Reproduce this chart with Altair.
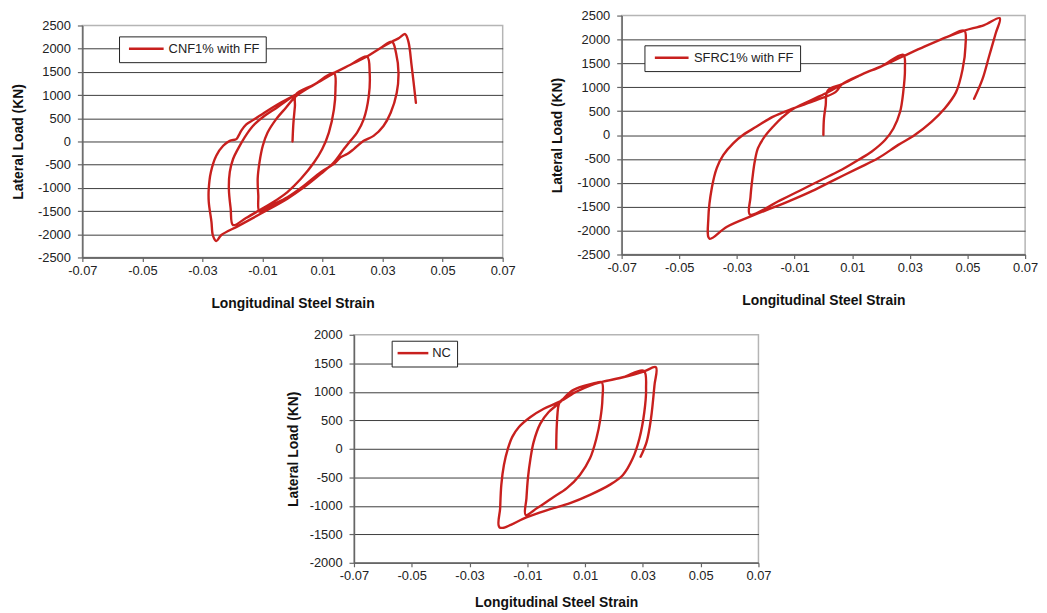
import altair as alt
import pandas as pd

RED = "#c8201e"
FONT = "Liberation Sans"

x_ticks = [-0.07, -0.05, -0.03, -0.01, 0.01, 0.03, 0.05, 0.07]

# ---- CNF1% with FF (top-left) ----
cnf_strain = [0.0, 0.0003, 0.0008, 0.0011, 0.0072, 0.0138,
              0.0143, 0.0138, 0.0121, 0.0099, 0.0072, 0.0028, -0.0017, -0.0072, -0.011, -0.0155, -0.0198,
              -0.0206, -0.0212, -0.0209, -0.0198, -0.0182, -0.016, -0.0132, -0.0094, -0.005, 0.0011, 0.0072, 0.0138, 0.0193, 0.0248,
              0.0257, 0.0254, 0.0237, 0.0215, 0.0193, 0.0171, 0.0138, 0.0094, 0.0039, -0.0017, -0.0105, -0.018, -0.0237, -0.0254,
              -0.0265, -0.027, -0.0279, -0.0279, -0.0272, -0.0254, -0.0231, -0.0209, -0.0187, -0.018, -0.0171, -0.0154, -0.0127, -0.0094, -0.005, 0.0011, 0.0072, 0.0138, 0.0193, 0.0248, 0.0292, 0.0331,
              0.0345, 0.0353, 0.0347, 0.0327, 0.0303, 0.027, 0.0237, 0.0204, 0.0182, 0.016, 0.0138, 0.0094, 0.0039, -0.0017, -0.0072, -0.011,
              -0.0114, -0.0116, -0.011, -0.0099, -0.0083, -0.0055, -0.0022, 0.0011, 0.0072, 0.0138, 0.0193, 0.0248, 0.0292, 0.0331, 0.0353, 0.0375,
              0.0386, 0.0397, 0.0411]
cnf_load = [0, 400, 760, 1010, 1225, 1474,
            1118, 691, 192, -164, -449, -805, -1090, -1339, -1482, -1650, -1802,
            -1446, -1019, -662, -378, -164, 85, 335, 548, 740, 1011, 1225, 1474, 1653, 1831,
            1474, 976, 477, 192, 14, -164, -449, -698, -983, -1232, -1553, -1820, -2016, -2144,
            -2030, -1731, -1300, -1019, -662, -306, -93, 14, 50, 121, 228, 370, 477, 620, 798, 1011, 1225, 1474, 1653, 1831, 2009, 2151,
            1902, 1474, 1047, 620, 335, 121, 14, -164, -271, -342, -484, -662, -947, -1200, -1380, -1510,
            -1161, -805, -449, -93, 192, 477, 727, 970, 1225, 1474, 1653, 1831, 2009, 2151, 2222, 2315,
            2151, 1617, 833]

# ---- SFRC1% with FF (top-right) ----
sfrc_strain = [0.0, 0.0002, 0.0008, 0.0015, 0.0065, 0.0134, 0.0203, 0.0277,
               0.0283, 0.0277, 0.0266, 0.0243, 0.0214, 0.0168, 0.0123, 0.0065, 0.0008, -0.0072, -0.0152, -0.0255,
               -0.0253, -0.0246, -0.0238, -0.0227, -0.0204, -0.0175, -0.0141, -0.0107, -0.0038, 0.0019, 0.0065, 0.0134, 0.0203, 0.0277, 0.0352, 0.0432, 0.0489,
               0.0493, 0.0483, 0.046, 0.042, 0.0375, 0.0317, 0.026, 0.0191, 0.0123, 0.0042, -0.0038, -0.0129, -0.0244, -0.0336, -0.0395,
               -0.0399, -0.0387, -0.037, -0.0347, -0.0313, -0.0279, -0.0233, -0.0176, -0.0107, -0.0027, 0.0042, 0.0065, 0.0134, 0.0203, 0.0277, 0.0352, 0.0432, 0.0489, 0.0558, 0.0612,
               0.0598, 0.0575, 0.0552, 0.0523]
sfrc_load = [0, 343, 618, 930, 1065, 1271, 1443, 1680,
             1380, 893, 481, 137, -103, -343, -515, -721, -893, -1134, -1374, -1662,
             -1305, -893, -550, -275, -34, 172, 378, 540, 742, 907, 1065, 1271, 1443, 1649, 1855, 2061, 2185,
             1855, 1374, 893, 550, 275, 0, -206, -481, -687, -927, -1168, -1408, -1683, -1924, -2170,
             -1727, -1105, -691, -415, -173, 0, 172, 380, 553, 725, 898, 1065, 1271, 1443, 1649, 1855, 2061, 2185, 2301, 2445,
             2130, 1649, 1168, 758]

# ---- NC (bottom) ----
nc_strain = [0.0, 0.0002, 0.0008, 0.0014, 0.0071, 0.0117, 0.0157,
             0.016, 0.0153, 0.0139, 0.0117, 0.0082, 0.0037, -0.0015, -0.0066, -0.0106,
             -0.0103, -0.0098, -0.0089, -0.0078, -0.0055, -0.0026, 0.0014, 0.0048, 0.0082, 0.0122, 0.0162, 0.0231, 0.0303,
             0.0311, 0.0305, 0.0288, 0.0265, 0.0231, 0.0185, 0.0117, 0.0048, -0.0021, -0.0101, -0.0196,
             -0.0194, -0.019, -0.0181, -0.0167, -0.0152, -0.0129, -0.0089, -0.0043, 0.0014, 0.0071, 0.0117, 0.0162, 0.0231, 0.0303, 0.0345,
             0.034, 0.0328, 0.0313, 0.0292]
nc_load = [0, 413, 761, 831, 1005, 1110, 1170,
           877, 529, 180, -168, -459, -691, -866, -1040, -1160,
           -866, -517, -168, 122, 442, 645, 819, 994, 1080, 1140, 1179, 1255, 1370,
           1052, 645, 180, -168, -459, -633, -808, -953, -1060, -1200, -1380,
           -1040, -633, -285, 6, 209, 383, 558, 703, 831, 1005, 1110, 1179, 1255, 1354, 1431,
           1110, 529, 122, -140]


def panel(strain, load, name, ymin, ymax, w, h, lx, ly, sym_path, sym_off, lab_off,
          ytitle_pad, xtitle_pad):
    df = pd.DataFrame({"strain": strain, "load": load,
                       "step": list(range(len(strain))), "series": name})
    y_ticks = list(range(ymin, ymax + 1, 500))
    return alt.Chart(df).mark_line(strokeWidth=2.4, strokeJoin="round", strokeCap="round",
                                   interpolate="catmull-rom").encode(
        x=alt.X("strain:Q",
                scale=alt.Scale(domain=[-0.07, 0.07], nice=False, zero=False),
                axis=alt.Axis(values=x_ticks,
                              labelExpr="replace(format(datum.value, '.2f'), '\u2212', '-')",
                              title="Longitudinal Steel Strain", grid=False, labelFlush=False,
                              tickSize=4, labelPadding=3, titlePadding=xtitle_pad)),
        y=alt.Y("load:Q",
                scale=alt.Scale(domain=[ymin, ymax], nice=False, zero=False),
                axis=alt.Axis(values=y_ticks,
                              labelExpr="replace(format(datum.value, 'd'), '\u2212', '-')",
                              title="Lateral Load (KN)",
                              tickSize=5, labelPadding=7, titlePadding=ytitle_pad,
                              gridOpacity={"condition": {"test": f"datum.value == {ymax}", "value": 0},
                                           "value": 1})),
        order=alt.Order("step:Q"),
        color=alt.Color("series:N",
                        scale=alt.Scale(domain=[name], range=[RED]),
                        legend=alt.Legend(title=None, orient="none", legendX=lx, legendY=ly,
                                          symbolType=sym_path, symbolSize=100,
                                          symbolStrokeWidth=2.5, symbolOffset=sym_off,
                                          labelFontSize=13, labelFont=FONT, labelColor="#222",
                                          labelOffset=lab_off, padding=6,
                                          strokeColor="#222", fillColor="white")),
    ).properties(width=w, height=h)


p1 = panel(cnf_strain, cnf_load, "CNF1% with FF", -2500, 2500, 424, 234,
           37, 11, "M-4.3,0M-3.5,0H3.5", 15, 16, 12, 19)
p2 = panel(sfrc_strain, sfrc_load, "SFRC1% with FF", -2500, 2500, 407, 241,
           23, 30, "M-4.2,0M-3.4,0H3.4", 15, 16, 12, 19)
p3 = panel(nc_strain, nc_load, "NC", -2000, 2000, 408, 230,
           38, 6, "M-3.1,0H3.1", 9, 13, 9, 13)


def spacer(w, h):
    return alt.Chart(pd.DataFrame({"v": [0]})).mark_point(opacity=0, size=1).encode(
        x=alt.X("v:Q", axis=None, scale=alt.Scale(domain=[-1, 1])),
        y=alt.Y("v:Q", axis=None, scale=alt.Scale(domain=[-1, 1])),
    ).properties(width=w, height=h, view=alt.ViewBackground(stroke="transparent"))


left = alt.vconcat(spacer(424, 2), p1, spacing=0).resolve_scale(color="independent")
top = alt.hconcat(left, p2, spacing=34).resolve_scale(color="independent")
bottom = alt.hconcat(spacer(204, 1), p3, spacing=0).resolve_scale(color="independent")
chart = alt.vconcat(top, bottom, spacing=17).resolve_scale(
    color="independent"
).properties(
    padding={"left": 3, "top": -2, "right": 0, "bottom": 0}
).configure_view(
    stroke="#b5b5b5", strokeWidth=1.5
).configure_axis(
    labelFont=FONT, labelFontSize=13, labelColor="#222",
    titleFont=FONT, titleFontSize=14, titleFontWeight="bold", titleColor="#111",
    domainColor="#666", domainWidth=1.5, tickColor="#666", tickWidth=1.2,
    gridColor="#3c3c3c", gridWidth=1
)

chart.save("out.html", embed_options={"renderer": "svg", "actions": False})
